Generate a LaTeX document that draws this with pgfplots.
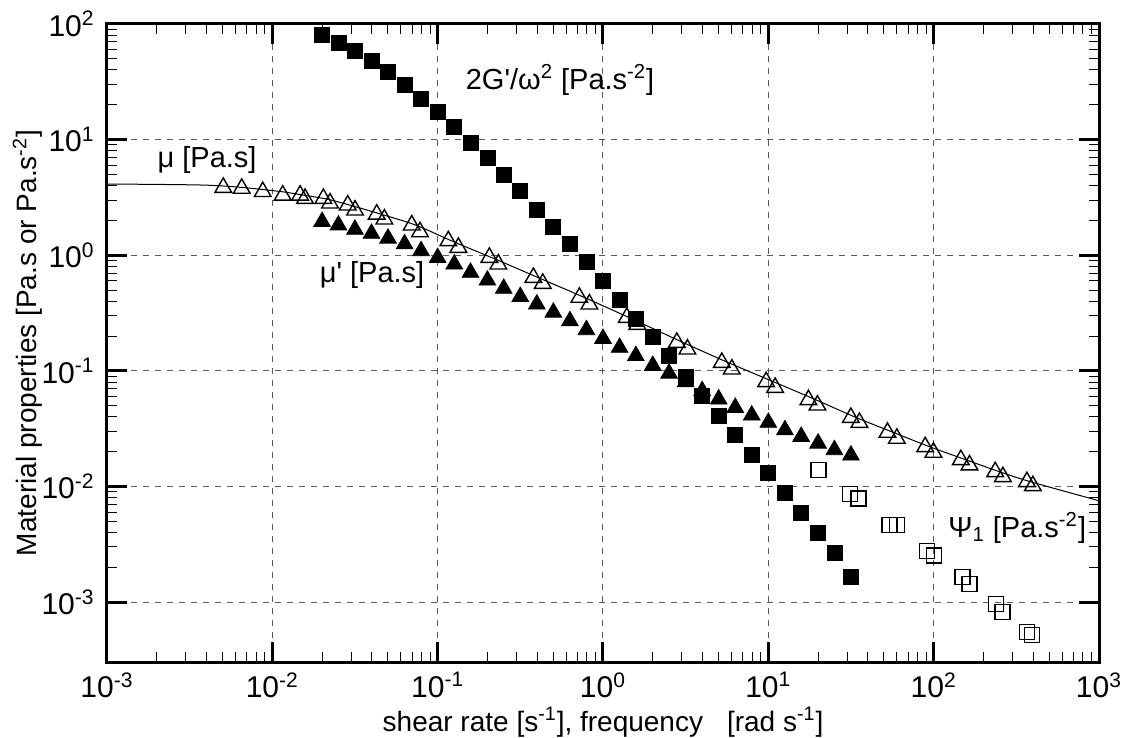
\documentclass[border=0pt]{standalone}
\usepackage{fontspec}
\setmainfont{Liberation Sans}
\usepackage{pgfplots}
\pgfplotsset{compat=1.18}
\begin{document}
\begin{tikzpicture}
\path[use as bounding box] (0,0) rectangle (562pt,369pt);
\begin{axis}[
  at={(53.5pt,38pt)}, anchor=south west,
  scale only axis, width=496pt, height=319pt,
  xmode=log, ymode=log,
  xmin=1e-3, xmax=1e3, ymin=3.03e-4, ymax=1e2,
  xtick={1e-3,1e-2,1e-1,1,10,100,1000},
  xticklabels={10\textsuperscript{-3},10\textsuperscript{-2},10\textsuperscript{-1},10\textsuperscript{0},10\textsuperscript{1},10\textsuperscript{2},10\textsuperscript{3}},
  ytick={1e-3,1e-2,1e-1,1,10,100},
  yticklabels={10\textsuperscript{-3},10\textsuperscript{-2},10\textsuperscript{-1},10\textsuperscript{0},10\textsuperscript{1},10\textsuperscript{2}},
  tick align=inside, tick pos=both,
  major tick length=10pt, minor tick length=5pt,
  every major tick/.append style={line width=1.5pt, black},
  every minor tick/.append style={line width=0.5pt, black},
  axis line style={line width=1.5pt},
  xmajorgrids, ymajorgrids,
  major grid style={line width=0.5pt, black!65, dash pattern=on 3pt off 3pt},
  ticklabel style={font=\fontsize{15}{15}\selectfont, inner sep=0pt},
  xticklabel style={yshift=-5pt},
  yticklabel style={xshift=-6pt},
  xlabel={shear rate [s\textsuperscript{-1}], frequency\hspace{12pt}[rad s\textsuperscript{-1}]},
  ylabel={Material properties [Pa.s or Pa.s\textsuperscript{-2}]},
  label style={font=\fontsize{14}{14}\selectfont},
  xlabel style={at={(axis description cs:0.5,-0.094)}, anchor=center},
  ylabel style={at={(axis description cs:-0.08,0.5)}, anchor=center},
]
% fitted viscosity curve
\addplot[black, line width=0.5pt, smooth, no marks] coordinates {
(0.001,4.13) (0.00366,4.05) (0.00638,3.87) (0.01113,3.56) (0.01523,3.32)
(0.02134,3.06) (0.03005,2.69) (0.04512,2.27) (0.07381,1.82) (0.1245,1.31)
(0.2188,0.936) (0.4050,0.641) (0.7718,0.431) (1.500,0.281) (3.009,0.1774)
(5.610,0.1192) (10.33,0.0824) (18.62,0.0576) (33.50,0.0398) (56.10,0.0296)
(94.19,0.0221) (155.1,0.0171) (248.3,0.01345) (381.9,0.01102) (1000,0.00752)
};
% mu' filled triangles
\addplot[only marks, mark=triangle*, mark size=4.8pt, black] coordinates {
(0.0200,1.95) (0.0251,1.82) (0.0316,1.67) (0.0398,1.54) (0.0501,1.40)
(0.0631,1.25) (0.0794,1.09) (0.1000,0.951) (0.126,0.836) (0.158,0.709)
(0.200,0.607) (0.251,0.515) (0.316,0.438) (0.398,0.377) (0.501,0.320)
(0.631,0.270) (0.794,0.226) (1.00,0.190) (1.26,0.159) (1.58,0.135)
(2.00,0.111) (2.51,0.0951) (3.16,0.0800) (3.98,0.0671) (5.01,0.0568)
(6.31,0.0481) (7.94,0.0413) (10.0,0.0357) (12.6,0.0308) (15.8,0.0270)
(20.0,0.0236) (25.1,0.0207) (31.6,0.0186)
};
% mu open triangles
\addplot[only marks, mark=triangle, mark size=4.8pt, black, mark options={line width=0.7pt}] coordinates {
(0.00505,3.85) (0.00653,3.78) (0.00875,3.54) (0.01156,3.30) (0.01472,3.30)
(0.01577,3.09) (0.02035,3.09) (0.02234,2.82) (0.02858,2.71) (0.03165,2.45)
(0.0428,2.26) (0.0476,2.05) (0.0697,1.82) (0.0782,1.59) (0.116,1.33)
(0.1334,1.166) (0.2055,0.955) (0.2329,0.836) (0.3793,0.641) (0.4323,0.569)
(0.7196,0.431) (0.8274,0.377) (1.393,0.289) (1.615,0.2515) (2.796,0.1757)
(3.240,0.1538) (5.233,0.1180) (6.015,0.1032) (9.70,0.0803) (10.99,0.0717)
(17.48,0.0561) (19.82,0.0504) (31.56,0.0394) (35.57,0.0357) (52.55,0.0293)
(59.91,0.0260) (88.84,0.0220) (99.7,0.0197) (146.0,0.0170) (164.7,0.0153)
(235.6,0.01338) (262.2,0.01211) (366.3,0.01096) (398.2,0.01012)
};
% 2G'/omega^2 filled squares
\addplot[only marks, mark=square*, mark size=3.75pt, black] coordinates {
(0.0200,80.4) (0.0251,68.1) (0.0316,58.3) (0.0398,47.9) (0.0501,38.2)
(0.0631,29.6) (0.0794,22.7) (0.1000,17.2) (0.126,12.8) (0.158,9.40)
(0.200,6.89) (0.251,4.94) (0.316,3.59) (0.398,2.49) (0.501,1.76)
(0.631,1.25) (0.794,0.869) (1.00,0.598) (1.26,0.409) (1.58,0.284)
(2.00,0.195) (2.51,0.134) (3.16,0.0879) (3.98,0.0608) (5.01,0.0408)
(6.31,0.0278) (7.94,0.0188) (10.0,0.0130) (12.6,0.00871) (15.8,0.00585)
(20.0,0.00393) (25.1,0.00264) (31.6,0.00166)
};
% Psi_1 open squares
\addplot[only marks, mark=square, mark size=3.75pt, black, mark options={line width=0.7pt}] coordinates {
(20.1,0.01387) (31.2,0.0086) (35.1,0.00789) (54.0,0.00464) (59.9,0.00464)
(90.9,0.00276) (100.7,0.00253) (149.3,0.001656) (164.6,0.001431)
(237.8,0.000967) (261.5,0.000824) (366,0.000553) (392.6,0.000518)
};
\node[font=\fontsize{14.5}{14.5}\selectfont] at (axis cs:0.55,32.8) {2G\textquotesingle/ω\textsuperscript{2} [Pa.s\textsuperscript{-2}]};
\node[font=\fontsize{14.5}{14.5}\selectfont] at (axis cs:0.00403,6.66) {μ [Pa.s]};
\node[font=\fontsize{14.5}{14.5}\selectfont] at (axis cs:0.0401,0.674) {μ\textquotesingle{} [Pa.s]};
\node[font=\fontsize{14.5}{14.5}\selectfont] at (axis cs:320,0.00437) {Ψ\textsubscript{1} [Pa.s\textsuperscript{-2}]};
\end{axis}
\end{tikzpicture}
\end{document}
